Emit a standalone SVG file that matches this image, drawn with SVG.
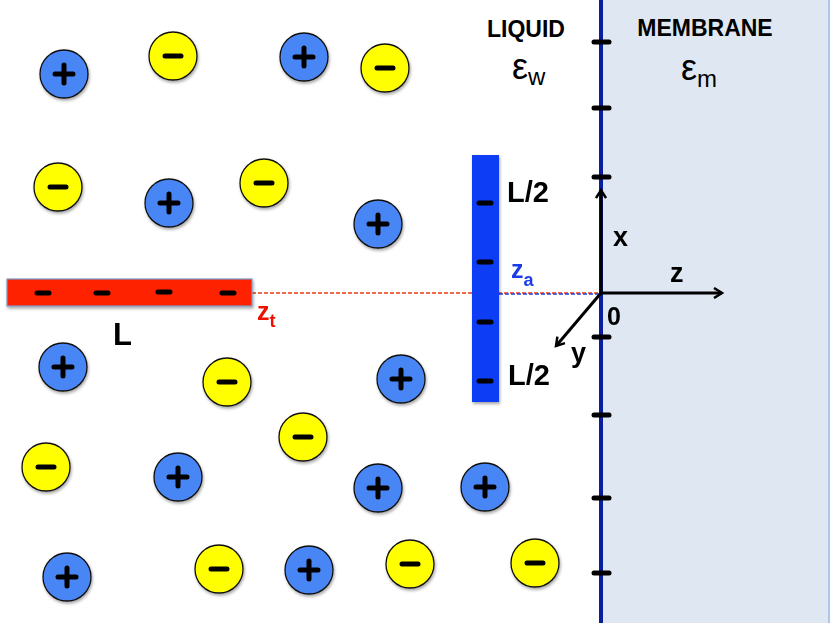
<svg xmlns="http://www.w3.org/2000/svg" width="830" height="623" viewBox="0 0 830 623">
<defs>
<style>
.pos{fill:#4a86f5;stroke:#111;stroke-width:1.3}
.neg{fill:#ffff00;stroke:#111;stroke-width:1.3}
.sign{stroke:#000;stroke-width:5;stroke-linecap:round}
.tick{stroke:#000;stroke-width:5;stroke-linecap:round}
.lbl{font-family:"Liberation Sans",Arial,sans-serif;font-weight:bold;fill:#000}
.eps{font-family:"Liberation Sans",Arial,sans-serif;fill:#000}
.ax{stroke:#000;stroke-width:3;fill:none}
</style>
<filter id="sh" x="-30%" y="-30%" width="160%" height="160%">
<feDropShadow dx="1" dy="2" stdDeviation="1.5" flood-color="#000" flood-opacity="0.35"/>
</filter>
<marker id="ah" markerWidth="12" markerHeight="12" refX="9" refY="6" orient="auto" markerUnits="userSpaceOnUse" viewBox="0 0 12 12">
<path d="M1,1 L9,6 L1,11" fill="none" stroke="#000" stroke-width="2.5" stroke-linejoin="miter"/>
</marker>
<g id="plus"><circle r="24" class="pos"/><path class="sign" d="M-9,0H9M0,-9V9"/></g>
<g id="minus"><circle r="24" class="neg"/><path class="sign" d="M-8,0H8"/></g>
</defs>
<rect width="830" height="623" fill="#fff"/>
<g id="membrane">
<rect x="601" y="-2" width="228" height="627" fill="#dfe7f2" stroke="#9bb8e0" stroke-width="1.5"/>
<line x1="601" y1="0" x2="601" y2="623" stroke="#0a1fa0" stroke-width="4"/>
<g class="tick">
<line x1="594" y1="42" x2="609" y2="42"/>
<line x1="594" y1="108" x2="609" y2="108"/>
<line x1="594" y1="177" x2="609" y2="177"/>
<line x1="594" y1="337" x2="609" y2="337"/>
<line x1="594" y1="415" x2="609" y2="415"/>
<line x1="594" y1="498" x2="609" y2="498"/>
<line x1="594" y1="573" x2="609" y2="573"/>
</g>
<text class="lbl" x="705" y="36" font-size="23" text-anchor="middle">MEMBRANE</text>
<text class="eps" x="681" y="80" font-size="36">ε<tspan font-size="24" dy="7">m</tspan></text>
</g>
<g id="liquid-label">
<text class="lbl" x="526" y="37" font-size="23" text-anchor="middle">LIQUID</text>
<text class="eps" x="512" y="79" font-size="36">ε<tspan font-size="24" dy="6">w</tspan></text>
</g>
<g id="ions" filter="url(#sh)">
<use href="#plus" x="64" y="74"/>
<use href="#plus" x="304" y="57"/>
<use href="#plus" x="169" y="203"/>
<use href="#plus" x="378" y="224"/>
<use href="#plus" x="63" y="367"/>
<use href="#plus" x="401" y="379"/>
<use href="#plus" x="178" y="477"/>
<use href="#plus" x="378" y="488"/>
<use href="#plus" x="485" y="487"/>
<use href="#plus" x="67" y="577"/>
<use href="#plus" x="309" y="570"/>
<use href="#minus" x="173" y="56"/>
<use href="#minus" x="385" y="68"/>
<use href="#minus" x="58" y="187"/>
<use href="#minus" x="264" y="183"/>
<use href="#minus" x="227" y="382"/>
<use href="#minus" x="303" y="437"/>
<use href="#minus" x="46" y="467"/>
<use href="#minus" x="219" y="569"/>
<use href="#minus" x="410" y="564"/>
<use href="#minus" x="535" y="563"/>
</g>
<g id="connectors">
<line x1="252" y1="293" x2="600" y2="293" stroke="#f03a10" stroke-width="1.3" stroke-dasharray="4,2"/>
<line x1="499" y1="294" x2="600" y2="294" stroke="#2040e0" stroke-width="1.3" stroke-dasharray="4,2"/>
<line class="ax" x1="601" y1="293" x2="601" y2="190" marker-end="url(#ah)"/>
<line class="ax" x1="601" y1="293" x2="722" y2="293" marker-end="url(#ah)"/>
<line class="ax" x1="601" y1="293" x2="556" y2="346" marker-end="url(#ah)"/>
</g>
<g id="red-rod">
<rect x="7" y="279" width="245" height="27" fill="#ff2400" stroke="#7a9cc8" stroke-width="1.2" filter="url(#sh)"/>
<g class="tick">
<line x1="37" y1="293" x2="49" y2="293"/>
<line x1="96" y1="293" x2="108" y2="293"/>
<line x1="158" y1="292" x2="170" y2="292"/>
<line x1="222" y1="293" x2="234" y2="293"/>
</g>
<text x="257" y="320" font-family="Liberation Sans,Arial,sans-serif" font-weight="bold" font-size="25" fill="#ee1100">z<tspan font-size="18" dy="7">t</tspan></text>
<text class="lbl" x="113" y="345" font-size="31">L</text>
</g>
<g id="blue-rod">
<rect x="472" y="155" width="27" height="247" fill="#0a3cf5" filter="url(#sh)"/>
<g class="tick">
<line x1="479" y1="203" x2="491" y2="203"/>
<line x1="479" y1="262" x2="491" y2="262"/>
<line x1="479" y1="322" x2="491" y2="322"/>
<line x1="479" y1="381" x2="491" y2="381"/>
</g>
<text class="lbl" x="507" y="202" font-size="29">L/2</text>
<text class="lbl" x="508" y="385" font-size="29">L/2</text>
<text x="511" y="278" font-family="Liberation Sans,Arial,sans-serif" font-weight="bold" font-size="25" fill="#1a3ce8">z<tspan font-size="18" dy="8">a</tspan></text>
</g>
<g id="axis-labels">
<text class="lbl" x="613" y="246" font-size="27">x</text>
<text class="lbl" x="670" y="282" font-size="27">z</text>
<text class="lbl" x="607" y="325" font-size="25">0</text>
<text class="lbl" x="571" y="362" font-size="27">y</text>
</g>
</svg>
